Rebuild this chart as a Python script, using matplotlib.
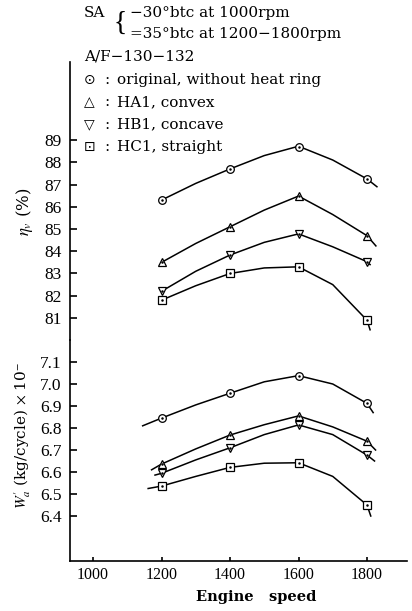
import matplotlib.pyplot as plt

# engine speed at the measured points (rpm)
rpm = [1200, 1400, 1600, 1800]

# volumetric efficiency eta_v (%) at the measured points
eta_orig = [86.3, 87.7, 88.7, 87.25]
eta_ha1 = [83.5, 85.1, 86.48, 84.7]
eta_hb1 = [82.2, 83.83, 84.78, 83.53]
eta_hc1 = [81.8, 83.0, 83.3, 80.9]

# air mass per cycle W'a at the measured points
wa_orig = [6.845, 6.958, 7.038, 6.912]
wa_ha1 = [6.636, 6.768, 6.855, 6.74]
wa_hb1 = [6.594, 6.71, 6.814, 6.677]
wa_hc1 = [6.536, 6.621, 6.642, 6.45]

eta_orig_cx = [1200, 1300, 1400, 1500, 1600, 1700, 1800, 1829]
eta_orig_cy = [86.3, 87.05, 87.7, 88.3, 88.72, 88.1, 87.25, 86.9]
eta_ha1_cx = [1200, 1300, 1400, 1500, 1600, 1700, 1800, 1826]
eta_ha1_cy = [83.5, 84.35, 85.1, 85.85, 86.48, 85.65, 84.7, 84.24]
eta_hb1_cx = [1200, 1300, 1400, 1500, 1600, 1700, 1800, 1809]
eta_hb1_cy = [82.2, 83.1, 83.83, 84.4, 84.78, 84.2, 83.53, 83.4]
eta_hc1_cx = [1200, 1300, 1400, 1500, 1600, 1700, 1800, 1809]
eta_hc1_cy = [81.8, 82.45, 83.0, 83.25, 83.3, 82.5, 80.9, 80.47]

wa_orig_cx = [1145, 1200, 1300, 1400, 1500, 1600, 1700, 1800, 1818]
wa_orig_cy = [6.81, 6.845, 6.905, 6.958, 7.01, 7.038, 7.0, 6.912, 6.87]
wa_ha1_cx = [1171, 1200, 1300, 1400, 1500, 1600, 1700, 1800, 1825]
wa_ha1_cy = [6.61, 6.636, 6.705, 6.768, 6.815, 6.855, 6.805, 6.74, 6.70]
wa_hb1_cx = [1181, 1200, 1300, 1400, 1500, 1600, 1700, 1800, 1822]
wa_hb1_cy = [6.586, 6.594, 6.655, 6.71, 6.77, 6.814, 6.77, 6.677, 6.65]
wa_hc1_cx = [1161, 1200, 1300, 1400, 1500, 1600, 1700, 1800, 1811]
wa_hc1_cy = [6.525, 6.536, 6.58, 6.621, 6.64, 6.642, 6.58, 6.45, 6.40]

eta_ticks = [81, 82, 83, 84, 85, 86, 87, 88, 89]
wa_ticks = [6.4, 6.5, 6.6, 6.7, 6.8, 6.9, 7.0, 7.1]
rpm_ticks = [1000, 1200, 1400, 1600, 1800]

legend_labels = ["original, without heat ring", "HA1, convex", "HB1, concave", "HC1, straight"]
legend_syms = ["\u2299", "\u25b3", "\u25bd", "\u22a1"]

plt.rcParams['font.family'] = ['Liberation Serif', 'DejaVu Serif', 'DejaVu Sans']
plt.rcParams['mathtext.fontset'] = 'stix'

W, H = 412, 611
fig = plt.figure(figsize=(W / 100, H / 100), dpi=100)


def px(x, y):
    return x / W, 1 - y / H


ax1 = fig.add_axes([70 / W, 1 - 340 / H, 337 / W, 278 / H])
ax2 = fig.add_axes([70 / W, 1 - 561 / H, 337 / W, 221 / H])

markers = ['o', '^', 'v', 's']


def draw(ax, curves, marks):
    for (cx, cy), ys, m in zip(curves, marks, markers):
        ax.plot(cx, cy, color='black', lw=1.1, zorder=2)
        ax.plot(rpm, ys, ls='none', marker=m, ms=5.5, mfc='white', mec='black', mew=0.9, zorder=3)
        ax.plot(rpm, ys, ls='none', marker='.', ms=1.6, color='black', zorder=4)


draw(ax1, [(eta_orig_cx, eta_orig_cy), (eta_ha1_cx, eta_ha1_cy),
           (eta_hb1_cx, eta_hb1_cy), (eta_hc1_cx, eta_hc1_cy)],
     [eta_orig, eta_ha1, eta_hb1, eta_hc1])
draw(ax2, [(wa_orig_cx, wa_orig_cy), (wa_ha1_cx, wa_ha1_cy),
           (wa_hb1_cx, wa_hb1_cy), (wa_hc1_cx, wa_hc1_cy)],
     [wa_orig, wa_ha1, wa_hb1, wa_hc1])

for ax in (ax1, ax2):
    ax.set_xlim(932.8, 1916.8)
    ax.patch.set_alpha(0)
    for s in ('top', 'right'):
        ax.spines[s].set_visible(False)
    ax.spines['left'].set_linewidth(1.2)
    ax.tick_params(axis='y', direction='in', length=5, width=1.2, pad=6, labelsize=12.5)

ax1.set_ylim(80.011, 92.506)
ax1.set_yticks(eta_ticks)
ax1.spines['bottom'].set_visible(False)
ax1.tick_params(axis='x', bottom=False, labelbottom=False)
ax1.set_ylabel(r'$\eta_v$ (%)', fontsize=12, family=['DejaVu Serif'])
ax1.yaxis.set_label_coords(-0.104, 0.46)

ax2.set_ylim(6.1955, 7.2)
ax2.set_yticks(wa_ticks)
ax2.set_yticklabels([f"{v:.1f}" for v in wa_ticks])
ax2.spines['bottom'].set_linewidth(1.2)
ax2.set_xticks(rpm_ticks)
ax2.tick_params(axis='x', direction='in', length=3, width=1.2, pad=4, labelsize=11.5)
ax2.set_xlabel('Engine   speed', fontsize=10.5, fontweight='bold', family=['DejaVu Serif'])
ax2.xaxis.set_label_coords((256 - 70) / 337, -0.13)
ax2.set_ylabel(r"$W_a'$ (kg/cycle) $\times$ 10$^{-}$", fontsize=11, family=['DejaVu Serif'])
ax2.yaxis.set_label_coords(-0.11, 0.57)

# header notes
hdr = dict(fontsize=11, va='center', family=['DejaVu Serif'])
fig.text(*px(84, 13), "SA", **hdr)
fig.text(*px(114, 23), "{", fontsize=20, va='center', fontweight='light')
fig.text(*px(130, 13), "\u221230\u00b0btc at 1000rpm", **hdr)
fig.text(*px(130, 34), "=35\u00b0btc at 1200\u22121800rpm", **hdr)
fig.text(*px(84, 57), "A/F\u2212130\u2212132", **hdr)
for i, (sym, lab) in enumerate(zip(legend_syms, legend_labels)):
    y = 80 + i * 22.3
    fig.text(*px(84, y), sym, fontsize=10, va='center', family=['DejaVu Sans'])
    fig.text(*px(104, y), ":", **hdr)
    fig.text(*px(117, y), lab, **hdr)

fig.savefig("out.png", dpi=100, facecolor='white')
